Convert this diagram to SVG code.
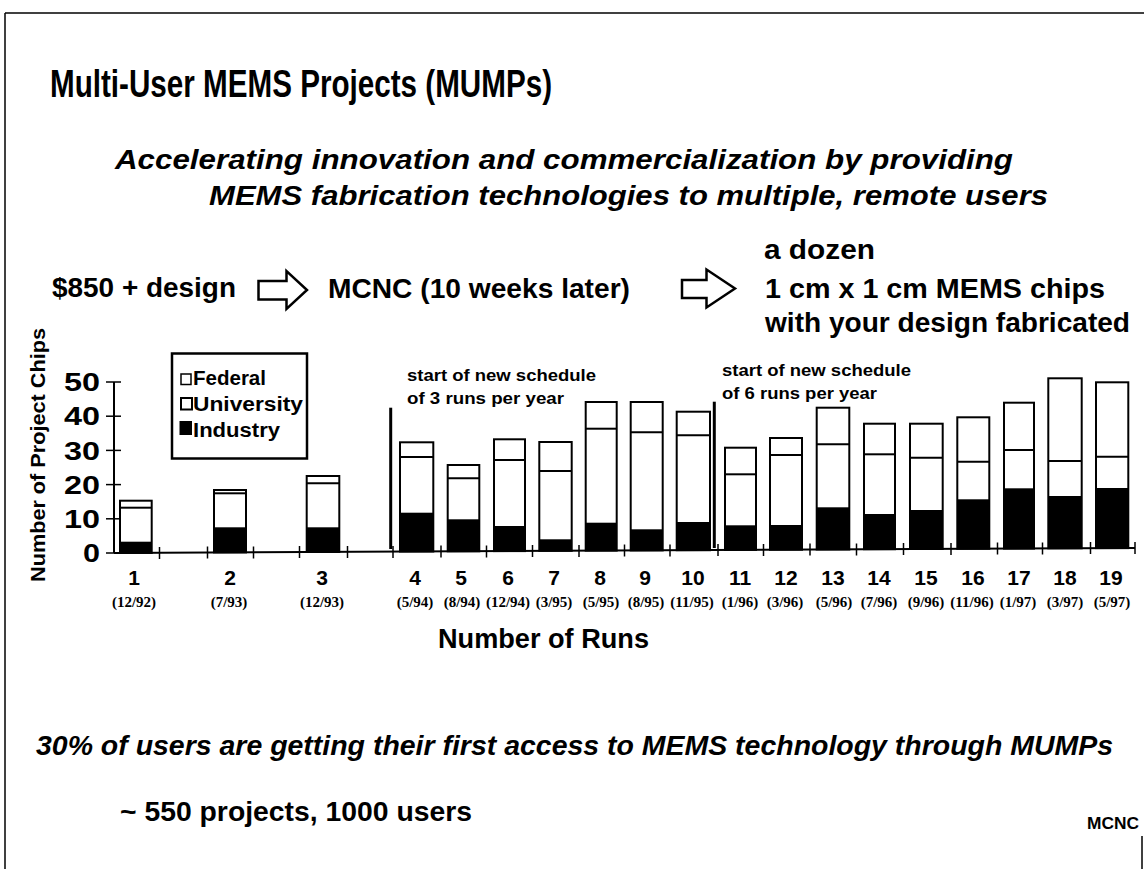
<svg xmlns="http://www.w3.org/2000/svg" width="1144" height="869" viewBox="0 0 1144 869">
<style>
.sans{font-family:"Liberation Sans",Arial,sans-serif;font-weight:bold;fill:#000}
.it{font-style:italic}
.serif{font-family:"Liberation Serif","Times New Roman",serif;font-weight:bold;fill:#000;font-size:15px;text-anchor:middle}
.num{font-family:"Liberation Sans",Arial,sans-serif;font-weight:bold;fill:#000;font-size:21px;text-anchor:middle}
.bar{fill:#fff;stroke:#000;stroke-width:2}
.ind{fill:#000}
.ln{stroke:#000;stroke-width:2;fill:none}
.tick{stroke:#000;stroke-width:1.5}
.arrow{fill:#fff;stroke:#000;stroke-width:2.5;stroke-linejoin:miter}
</style>
<rect width="1144" height="869" fill="#fff"/>
<g id="frame">
<line x1="5" y1="13" x2="1144" y2="13" stroke="#000" stroke-width="1.5"/>
<line x1="5" y1="13" x2="5" y2="869" stroke="#000" stroke-width="1.5"/>
<line x1="1142" y1="836" x2="1142" y2="869" stroke="#000" stroke-width="1.5"/>
</g>
<g id="title"><text class="sans" x="50" y="97" font-size="38" textLength="502" lengthAdjust="spacingAndGlyphs">Multi-User MEMS Projects (MUMPs)</text></g>
<g id="subtitle">
<text class="sans it" x="115" y="169" font-size="28" textLength="898" lengthAdjust="spacingAndGlyphs">Accelerating innovation and commercialization by providing</text>
<text class="sans it" x="209" y="205" font-size="28" textLength="839" lengthAdjust="spacingAndGlyphs">MEMS fabrication technologies to multiple, remote users</text>
</g>
<g id="flow">
<g id="node-cost"><text class="sans" x="52" y="297" font-size="27" textLength="184" lengthAdjust="spacingAndGlyphs">$850 + design</text></g>
<g id="node-mcnc"><text class="sans" x="328" y="298" font-size="28" textLength="302" lengthAdjust="spacingAndGlyphs">MCNC (10 weeks later)</text></g>
<g id="node-chips">
<text class="sans" x="764" y="259" font-size="28" textLength="111" lengthAdjust="spacingAndGlyphs">a  dozen</text>
<text class="sans" x="765" y="298" font-size="28" textLength="340" lengthAdjust="spacingAndGlyphs">1 cm x 1 cm MEMS  chips</text>
<text class="sans" x="765" y="332" font-size="28" textLength="365" lengthAdjust="spacingAndGlyphs">with your design fabricated</text>
</g>
<g id="connectors">
<polygon class="arrow" points="258.5,281 286.5,281 286.5,271 307,290 286.5,309 286.5,299.5 258.5,299.5"/>
<polygon class="arrow" points="682,280 706.5,280 706.5,269.5 735,288.5 706.5,307.5 706.5,298 682,298"/>
</g>
</g>
<g id="chart">
<g id="y-axis">
<line class="ln" x1="114" y1="382" x2="114" y2="553"/>
<line class="tick" x1="106" y1="553" x2="121" y2="553"/>
<line class="tick" x1="106" y1="518.8" x2="121" y2="518.8"/>
<line class="tick" x1="106" y1="484.6" x2="121" y2="484.6"/>
<line class="tick" x1="106" y1="450.4" x2="121" y2="450.4"/>
<line class="tick" x1="106" y1="416.2" x2="121" y2="416.2"/>
<line class="tick" x1="106" y1="382" x2="121" y2="382"/>
<g class="sans" font-size="26" text-anchor="end">
<text x="100" y="391" textLength="36" lengthAdjust="spacingAndGlyphs">50</text>
<text x="100" y="425" textLength="36" lengthAdjust="spacingAndGlyphs">40</text>
<text x="100" y="459.5" textLength="36" lengthAdjust="spacingAndGlyphs">30</text>
<text x="100" y="493.5" textLength="36" lengthAdjust="spacingAndGlyphs">20</text>
<text x="100" y="527.5" textLength="36" lengthAdjust="spacingAndGlyphs">10</text>
<text x="100" y="562" textLength="17" lengthAdjust="spacingAndGlyphs">0</text>
</g>
<text class="sans" transform="translate(45,455) rotate(-90)" x="0" y="0" font-size="20" text-anchor="middle" textLength="254" lengthAdjust="spacingAndGlyphs">Number of Project Chips</text>
</g>
<g id="x-axis">
<line class="ln" x1="114" y1="553" x2="1135" y2="548"/>
<g class="tick">
<line x1="159.5" y1="547" x2="159.5" y2="559"/>
<line x1="207.5" y1="546.5" x2="207.5" y2="558.5"/>
<line x1="253.5" y1="546.5" x2="253.5" y2="558.5"/>
<line x1="299.5" y1="546" x2="299.5" y2="558"/>
<line x1="347.5" y1="546" x2="347.5" y2="558"/>
<line x1="393" y1="546" x2="393" y2="558"/>
<line x1="441" y1="545.5" x2="441" y2="557.5"/>
<line x1="486.5" y1="545.5" x2="486.5" y2="557.5"/>
<line x1="532.5" y1="545" x2="532.5" y2="557"/>
<line x1="579" y1="545" x2="579" y2="557"/>
<line x1="624.5" y1="544.5" x2="624.5" y2="556.5"/>
<line x1="670" y1="544.5" x2="670" y2="556.5"/>
<line x1="718" y1="544" x2="718" y2="556"/>
<line x1="763.5" y1="544" x2="763.5" y2="556"/>
<line x1="810" y1="543.5" x2="810" y2="555.5"/>
<line x1="856.5" y1="543.5" x2="856.5" y2="555.5"/>
<line x1="903.5" y1="543" x2="903.5" y2="555"/>
<line x1="951" y1="543" x2="951" y2="555"/>
<line x1="997.5" y1="542.5" x2="997.5" y2="554.5"/>
<line x1="1042.5" y1="542.5" x2="1042.5" y2="554.5"/>
<line x1="1090.5" y1="542" x2="1090.5" y2="554"/>
<line x1="1135" y1="542" x2="1135" y2="554"/>
</g>
<g class="num">
<text x="134" y="585">1</text>
<text x="230" y="585">2</text>
<text x="322" y="585">3</text>
<text x="415" y="585">4</text>
<text x="461" y="585">5</text>
<text x="508" y="585">6</text>
<text x="554" y="585">7</text>
<text x="600" y="585">8</text>
<text x="645" y="585">9</text>
<text x="693" y="585">10</text>
<text x="740" y="585">11</text>
<text x="786" y="585">12</text>
<text x="833" y="585">13</text>
<text x="879" y="585">14</text>
<text x="926" y="585">15</text>
<text x="973" y="585">16</text>
<text x="1019" y="585">17</text>
<text x="1065" y="585">18</text>
<text x="1111" y="585">19</text>
</g>
<g class="serif">
<text x="134" y="607">(12/92)</text>
<text x="229" y="607">(7/93)</text>
<text x="322" y="607">(12/93)</text>
<text x="415" y="607">(5/94)</text>
<text x="462" y="607">(8/94)</text>
<text x="508" y="607">(12/94)</text>
<text x="554" y="607">(3/95)</text>
<text x="601" y="607">(5/95)</text>
<text x="646" y="607">(8/95)</text>
<text x="692" y="607">(11/95)</text>
<text x="740" y="607">(1/96)</text>
<text x="785" y="607">(3/96)</text>
<text x="834" y="607">(5/96)</text>
<text x="879" y="607">(7/96)</text>
<text x="926" y="607">(9/96)</text>
<text x="972" y="607">(11/96)</text>
<text x="1018" y="607">(1/97)</text>
<text x="1065" y="607">(3/97)</text>
<text x="1112" y="607">(5/97)</text>
</g>
<text class="sans" x="438" y="648" font-size="27" textLength="211" lengthAdjust="spacingAndGlyphs">Number of Runs</text>
</g>
<g id="bars">
<g id="run1"><rect class="bar" x="120" y="500.7" width="31.7" height="52.2"/><line class="ln" x1="120" y1="507.7" x2="151.7" y2="507.7"/><rect class="ind" x="120" y="541.7" width="31.7" height="11.2"/></g>
<g id="run2"><rect class="bar" x="214" y="490" width="32" height="62.4"/><line class="ln" x1="214" y1="493.3" x2="246" y2="493.3"/><rect class="ind" x="214" y="527.3" width="32" height="25.1"/></g>
<g id="run3"><rect class="bar" x="306.7" y="476" width="32.6" height="76"/><line class="ln" x1="306.7" y1="483.3" x2="339.3" y2="483.3"/><rect class="ind" x="306.7" y="527.3" width="32.6" height="24.7"/></g>
<g id="run4"><rect class="bar" x="400" y="442.3" width="33.3" height="109.2"/><line class="ln" x1="400" y1="457" x2="433.3" y2="457"/><rect class="ind" x="400" y="512.7" width="33.3" height="38.8"/></g>
<g id="run5"><rect class="bar" x="447.7" y="465" width="31.6" height="86.3"/><line class="ln" x1="447.7" y1="478.3" x2="479.3" y2="478.3"/><rect class="ind" x="447.7" y="519.3" width="31.6" height="32"/></g>
<g id="run6"><rect class="bar" x="494" y="439.3" width="31" height="111.8"/><line class="ln" x1="494" y1="460" x2="525" y2="460"/><rect class="ind" x="494" y="526" width="31" height="25.1"/></g>
<g id="run7"><rect class="bar" x="539.3" y="442" width="32.4" height="108.8"/><line class="ln" x1="539.3" y1="471" x2="571.7" y2="471"/><rect class="ind" x="539.3" y="539.3" width="32.4" height="11.5"/></g>
<g id="run8"><rect class="bar" x="585.7" y="402" width="31" height="148.6"/><line class="ln" x1="585.7" y1="428.7" x2="616.7" y2="428.7"/><rect class="ind" x="585.7" y="522.7" width="31" height="27.9"/></g>
<g id="run9"><rect class="bar" x="630.7" y="402" width="32" height="148.4"/><line class="ln" x1="630.7" y1="432.3" x2="662.7" y2="432.3"/><rect class="ind" x="630.7" y="529.3" width="32" height="21.1"/></g>
<g id="run10"><rect class="bar" x="676.7" y="411.7" width="33.3" height="138.5"/><line class="ln" x1="676.7" y1="435.3" x2="710" y2="435.3"/><rect class="ind" x="676.7" y="522" width="33.3" height="28.2"/></g>
<g id="run11"><rect class="bar" x="725" y="447.7" width="31" height="102.2"/><line class="ln" x1="725" y1="474.3" x2="756" y2="474.3"/><rect class="ind" x="725" y="525.3" width="31" height="24.6"/></g>
<g id="run12"><rect class="bar" x="770" y="438" width="32" height="111.7"/><line class="ln" x1="770" y1="455" x2="802" y2="455"/><rect class="ind" x="770" y="525" width="32" height="24.7"/></g>
<g id="run13"><rect class="bar" x="816.7" y="407.7" width="32.6" height="141.8"/><line class="ln" x1="816.7" y1="444.3" x2="849.3" y2="444.3"/><rect class="ind" x="816.7" y="507.3" width="32.6" height="42.2"/></g>
<g id="run14"><rect class="bar" x="864" y="423.7" width="31" height="125.5"/><line class="ln" x1="864" y1="454.3" x2="895" y2="454.3"/><rect class="ind" x="864" y="514" width="31" height="35.2"/></g>
<g id="run15"><rect class="bar" x="910" y="423.7" width="32.7" height="125.3"/><line class="ln" x1="910" y1="457.7" x2="942.7" y2="457.7"/><rect class="ind" x="910" y="510" width="32.7" height="39"/></g>
<g id="run16"><rect class="bar" x="957.3" y="417.3" width="32" height="131.5"/><line class="ln" x1="957.3" y1="461.7" x2="989.3" y2="461.7"/><rect class="ind" x="957.3" y="499.3" width="32" height="49.5"/></g>
<g id="run17"><rect class="bar" x="1004" y="402.7" width="30" height="145.9"/><line class="ln" x1="1004" y1="450" x2="1034" y2="450"/><rect class="ind" x="1004" y="488.3" width="30" height="60.3"/></g>
<g id="run18"><rect class="bar" x="1048.3" y="378.3" width="33.4" height="170"/><line class="ln" x1="1048.3" y1="461" x2="1081.7" y2="461"/><rect class="ind" x="1048.3" y="496" width="33.4" height="52.3"/></g>
<g id="run19"><rect class="bar" x="1096" y="382.3" width="32.3" height="165.8"/><line class="ln" x1="1096" y1="456.7" x2="1128.3" y2="456.7"/><rect class="ind" x="1096" y="488" width="32.3" height="60.1"/></g>
</g>
<g id="schedule-markers">
<line x1="390.7" y1="407.7" x2="390.7" y2="549" stroke="#000" stroke-width="3"/>
<line x1="714.3" y1="401.7" x2="714.3" y2="548" stroke="#000" stroke-width="3"/>
<text class="sans" x="407" y="381" font-size="16" textLength="189" lengthAdjust="spacingAndGlyphs">start of new schedule</text>
<text class="sans" x="407" y="404" font-size="16" textLength="157" lengthAdjust="spacingAndGlyphs">of 3 runs per year</text>
<text class="sans" x="722" y="376" font-size="16" textLength="189" lengthAdjust="spacingAndGlyphs">start of new schedule</text>
<text class="sans" x="722" y="399" font-size="16" textLength="155" lengthAdjust="spacingAndGlyphs">of 6 runs per year</text>
</g>
<g id="legend">
<rect x="172" y="353.5" width="135" height="105" fill="#fff" stroke="#000" stroke-width="2.5"/>
<rect x="181" y="374" width="10" height="10.5" fill="#fff" stroke="#000" stroke-width="1.5"/>
<rect x="181" y="398" width="11" height="11.5" fill="#fff" stroke="#000" stroke-width="2"/>
<rect x="179.5" y="421" width="12.5" height="14" fill="#000"/>
<text class="sans" x="193" y="385" font-size="20" textLength="73" lengthAdjust="spacingAndGlyphs">Federal</text>
<text class="sans" x="193" y="410.5" font-size="20" textLength="110" lengthAdjust="spacingAndGlyphs">University</text>
<text class="sans" x="193" y="437" font-size="20" textLength="87" lengthAdjust="spacingAndGlyphs">Industry</text>
</g>
</g>
<g id="footer">
<text class="sans it" x="36" y="755" font-size="28" textLength="1077" lengthAdjust="spacingAndGlyphs">30% of users are getting their first access to MEMS technology through MUMPs</text>
<text class="sans" x="120" y="821" font-size="28" textLength="352" lengthAdjust="spacingAndGlyphs">~ 550 projects, 1000 users</text>
<text class="sans" x="1087" y="829" font-size="17" textLength="52" lengthAdjust="spacingAndGlyphs">MCNC</text>
</g>
</svg>
